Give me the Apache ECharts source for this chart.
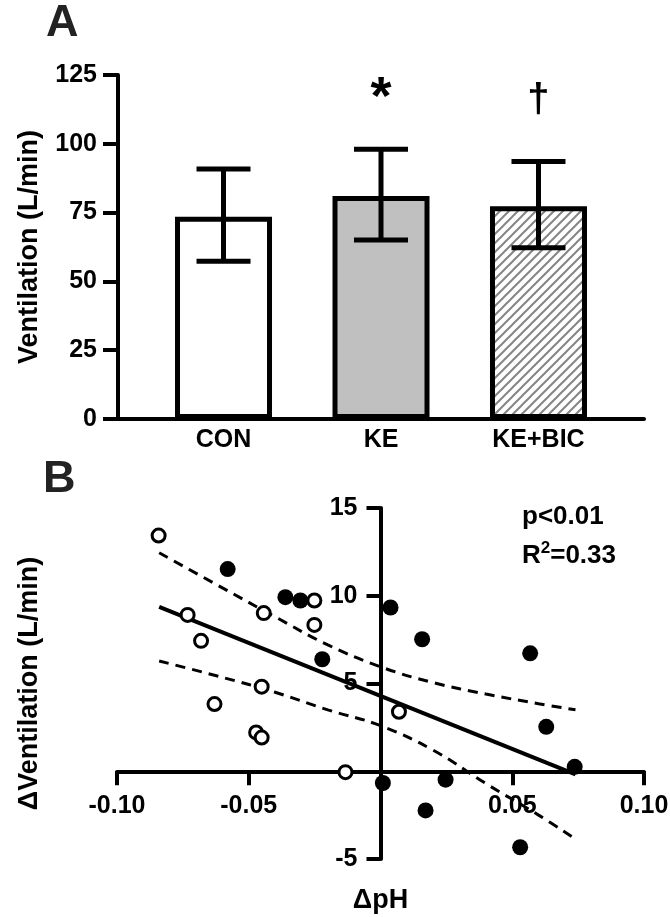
<!DOCTYPE html>
<html><head><meta charset="utf-8">
<script src="https://cdn.jsdelivr.net/npm/echarts@6/dist/echarts.min.js"></script>
<style>html,body{margin:0;padding:0;background:#fff}#c{width:670px;height:917px}</style>
</head><body><div id="c"></div>
<script>
// ---------- Panel A data ----------
const categories = ['CON', 'KE', 'KE+BIC'];
const meanVent = [73.5, 81.0, 77.3];
const errLow = [57.3, 65.0, 62.2];
const errHigh = [90.8, 98.0, 93.6];
const sigMarks = ['', '*', '\u2020'];

// ---------- Panel B data ----------
const openPts = [
  [-0.0842, 13.43], [-0.0732, 8.91], [-0.0681, 7.43], [-0.0630, 3.83],
  [-0.0443, 9.01], [-0.0451, 4.82], [-0.0472, 2.21], [-0.0451, 1.92],
  [-0.0251, 9.73], [-0.0251, 8.34], [-0.0133, -0.05], [0.0070, 3.39]
];
const filledPts = [
  [-0.0580, 11.52], [-0.0361, 9.92], [-0.0304, 9.73], [-0.0221, 6.38],
  [0.0009, -0.67], [0.0038, 9.33], [0.0158, 7.52], [0.0568, 6.72],
  [0.0629, 2.53], [0.0737, 0.25], [0.0247, -0.48], [0.0171, -2.23],
  [0.0530, -4.33]
];
const fitLine = [[-0.084, 9.37], [0.074, -0.18]];
const bandX = [-0.084, -0.06, -0.04, -0.02, 0, 0.02, 0.04, 0.06, 0.074];
const bandUpper = [12.45, 10.45, 8.8, 7.2, 5.95, 5.05, 4.4, 3.85, 3.5];
const bandLower = [6.28, 5.35, 4.5, 3.5, 2.6, 1.2, -0.7, -2.5, -3.86];

const FONT = '"Liberation Sans", Arial, Helvetica, sans-serif';

function hatch() {
  const s = 9, c = document.createElement('canvas');
  c.width = s; c.height = s;
  const g = c.getContext('2d');
  g.fillStyle = '#fff'; g.fillRect(0, 0, s, s);
  g.strokeStyle = '#858585'; g.lineWidth = 2;
  g.beginPath();
  g.moveTo(-1, s + 1); g.lineTo(s + 1, -1);
  g.moveTo(-1, 1); g.lineTo(1, -1);
  g.moveTo(s - 1, s + 1); g.lineTo(s + 1, s - 1);
  g.stroke();
  return c;
}
const fills = ['#ffffff', '#c0c0c0', { image: hatch(), repeat: 'repeat' }];
const markFont = { '*': 'bold 54px ', '\u2020': 'bold 40px ' };
const markShift = { '*': 50, '\u2020': 60 };

const barData = categories.map((c, i) => ({
  value: [i + 1, meanVent[i]],
  itemStyle: { color: fills[i] }
}));
const errData = categories.map((c, i) => [i + 1, errLow[i], errHigh[i]]);

// Panel B grid geometry (pixels) – axes cross at zero
const gB = { left: 117, right: 26, top: 508, bottom: 58 };
const gBw = 670 - gB.left - gB.right, gBh = 917 - gB.top - gB.bottom;
const yZeroOffset = -(gBh * 5 / 20);   // move x-axis up to y = 0
const xZeroOffset = -(gBw * 0.5);      // move y-axis right to x = 0

const chart = echarts.init(document.getElementById('c'), null, { renderer: 'canvas' });
const axisTxt = { color: '#000', fontWeight: 'bold', fontFamily: FONT };

chart.setOption({
  animation: false,
  backgroundColor: '#fff',
  grid: [
    { left: 118, right: 26, top: 75, bottom: 917 - 419, containLabel: false, outerBoundsMode: 'none' },
    Object.assign({ containLabel: false, outerBoundsMode: 'none' }, gB)
  ],
  xAxis: [
    {
      gridIndex: 0, type: 'value', min: 0.33, max: 3.67,
      axisLine: { onZero: false, lineStyle: { color: '#000', width: 4 } },
      axisTick: { show: false },
      splitLine: { show: false },
      axisLabel: Object.assign({}, axisTxt, {
        fontSize: 25, margin: 9,
        customValues: [1, 2, 3],
        formatter: v => categories[Math.round(v) - 1] || ''
      })
    },
    {
      gridIndex: 1, type: 'value', min: -0.1, max: 0.1, interval: 0.05,
      position: 'bottom', offset: yZeroOffset,
      name: '\u0394pH', nameLocation: 'middle', nameGap: 116,
      nameTextStyle: Object.assign({}, axisTxt, { fontSize: 27 }),
      axisLine: { onZero: false, lineStyle: { color: '#000', width: 4 } },
      axisTick: { length: 14, lineStyle: { color: '#000', width: 4 } },
      splitLine: { show: false },
      axisLabel: Object.assign({}, axisTxt, {
        fontSize: 25, margin: 22,
        formatter: v => Math.abs(v) < 1e-9 ? '' : v.toFixed(2)
      })
    }
  ],
  yAxis: [
    {
      gridIndex: 0, type: 'value', min: 0, max: 125, interval: 25,
      name: 'Ventilation (L/min)', nameLocation: 'middle', nameGap: 75,
      nameTextStyle: Object.assign({}, axisTxt, { fontSize: 27 }),
      axisLine: { show: true, onZero: false, lineStyle: { color: '#000', width: 4 } },
      axisTick: { show: true, length: 15, lineStyle: { color: '#000', width: 4 } },
      splitLine: { show: false },
      axisLabel: Object.assign({}, axisTxt, { fontSize: 25, margin: 21 })
    },
    {
      gridIndex: 1, type: 'value', min: -5, max: 15, interval: 5,
      position: 'left', offset: xZeroOffset,
      name: '\u0394Ventilation (L/min)', nameLocation: 'middle', nameGap: 337,
      nameTextStyle: Object.assign({}, axisTxt, { fontSize: 27 }),
      axisLine: { show: true, onZero: false, lineStyle: { color: '#000', width: 4 } },
      axisTick: { show: true, length: 14, lineStyle: { color: '#000', width: 4 } },
      splitLine: { show: false },
      axisLabel: Object.assign({}, axisTxt, {
        fontSize: 25, margin: 23,
        formatter: v => v === 0 ? '' : String(v)
      })
    }
  ],
  series: [
    {
      type: 'bar', xAxisIndex: 0, yAxisIndex: 0, barWidth: 97,
      data: barData,
      itemStyle: { borderColor: '#000', borderWidth: 5 },
      z: 2
    },
    {
      type: 'custom', xAxisIndex: 0, yAxisIndex: 0, data: errData, z: 3,
      renderItem: function (params, api) {
        const x = api.value(0);
        const lo = api.coord([x, api.value(1)]);
        const hi = api.coord([x, api.value(2)]);
        const w = 27;
        const st = { stroke: '#000', lineWidth: 5 };
        const m = sigMarks[params.dataIndex];
        const kids = [
          { type: 'line', shape: { x1: hi[0], y1: hi[1], x2: lo[0], y2: lo[1] }, style: st },
          { type: 'line', shape: { x1: hi[0] - w, y1: hi[1], x2: hi[0] + w, y2: hi[1] }, style: st },
          { type: 'line', shape: { x1: lo[0] - w, y1: lo[1], x2: lo[0] + w, y2: lo[1] }, style: st }
        ];
        if (m) {
          kids.push({
            type: 'text', x: hi[0], y: hi[1] - markShift[m],
            style: {
              text: m, fill: '#000',
              font: markFont[m] + FONT, align: 'center', verticalAlign: 'middle'
            }
          });
        }
        return { type: 'group', children: kids };
      }
    },
    {
      type: 'line', xAxisIndex: 1, yAxisIndex: 1, data: fitLine,
      symbol: 'none', lineStyle: { color: '#000', width: 4 }, z: 3
    },
    {
      type: 'line', xAxisIndex: 1, yAxisIndex: 1,
      data: bandX.map((x, i) => [x, bandUpper[i]]), smooth: 0.4,
      symbol: 'none', lineStyle: { color: '#000', width: 3, type: [10, 7] }, z: 3
    },
    {
      type: 'line', xAxisIndex: 1, yAxisIndex: 1,
      data: bandX.map((x, i) => [x, bandLower[i]]), smooth: 0.4,
      symbol: 'none', lineStyle: { color: '#000', width: 3, type: [10, 7] }, z: 3
    },
    {
      type: 'scatter', xAxisIndex: 1, yAxisIndex: 1, data: openPts,
      symbol: 'circle', symbolSize: 13,
      itemStyle: { color: '#fff', borderColor: '#000', borderWidth: 3, opacity: 1 }, z: 5
    },
    {
      type: 'scatter', xAxisIndex: 1, yAxisIndex: 1, data: filledPts,
      symbol: 'circle', symbolSize: 16,
      itemStyle: { color: '#000', opacity: 1 }, z: 5
    }
  ],
  graphic: [
    { type: 'text', left: 46, top: 1, style: { text: 'A', fill: '#222', font: 'bold 45px ' + FONT } },
    { type: 'text', left: 43, top: 457, style: { text: 'B', fill: '#222', font: 'bold 45px ' + FONT } },
    { type: 'text', left: 522, top: 504, style: { text: 'p<0.01', fill: '#000', font: 'bold 26px ' + FONT } },
    {
      type: 'text', left: 522, top: 540,
      style: {
        text: '{a|R}{s|2}{a|=0.33}', fill: '#000',
        rich: {
          a: { fontFamily: FONT, fontWeight: 'bold', fontSize: 26, lineHeight: 29, verticalAlign: 'bottom' },
          s: { fontFamily: FONT, fontWeight: 'bold', fontSize: 17, lineHeight: 29, verticalAlign: 'top' }
        }
      }
    }
  ]
});
</script></body></html>
